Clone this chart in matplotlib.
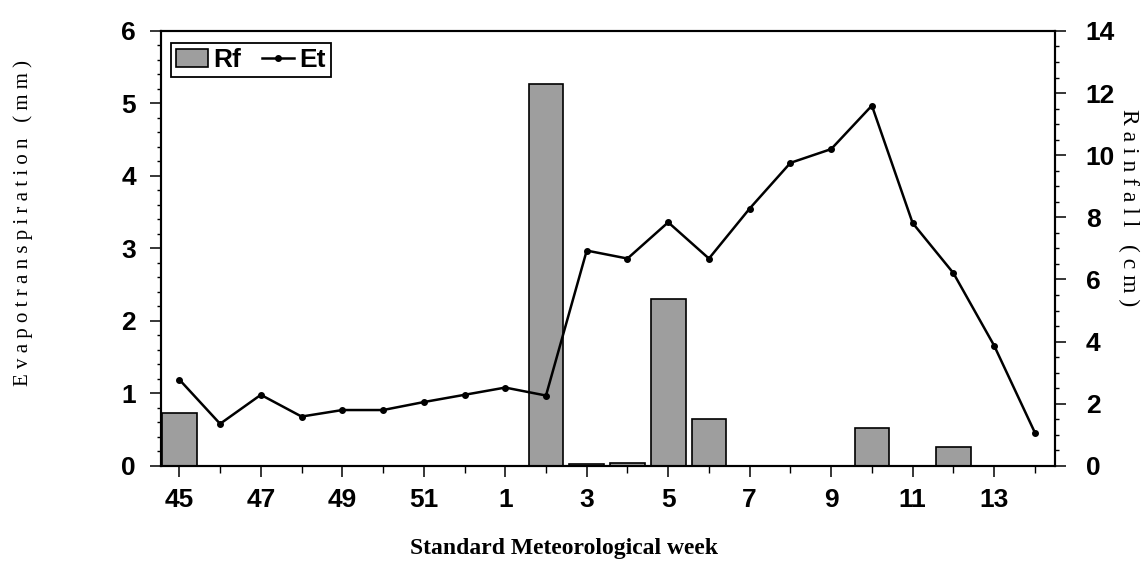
import numpy as np
import matplotlib
matplotlib.use('Agg')
import matplotlib.pyplot as plt
from matplotlib.ticker import MultipleLocator, FixedLocator

# standard meteorological weeks
weeks = [45, 46, 47, 48, 49, 50, 51, 52, 1, 2, 3, 4, 5, 6, 7, 8, 9, 10, 11, 12, 13, 14]

# evapotranspiration (mm), left axis
et = [1.19, 0.58, 0.98, 0.68, 0.77, 0.77, 0.88, 0.98, 1.08, 0.97, 2.97, 2.86,
      3.36, 2.86, 3.55, 4.18, 4.37, 4.97, 3.35, 2.66, 1.66, 0.46]

# rainfall (cm), right axis
rf = [1.7, 0, 0, 0, 0, 0, 0, 0, 0, 12.3, 0.07, 0.1,
      5.37, 1.5, 0, 0, 0, 1.22, 0, 0.6, 0, 0]

x = np.arange(len(weeks))

fig = plt.figure(figsize=(11.42, 5.73), dpi=100)
ax = fig.add_axes([0.141, 0.187, 0.783, 0.759])
ax2 = ax.twinx()

bars = ax2.bar(x, rf, width=0.85, color='#9e9e9e', edgecolor='black', linewidth=1.2, label='Rf')
line, = ax.plot(x, et, color='black', linewidth=1.8, marker='o', markersize=4, label='Et')

ax.set_zorder(ax2.get_zorder() + 1)
ax.patch.set_visible(False)

ax.set_xlim(-0.45, 21.5)
ax.set_ylim(0, 6)
ax2.set_ylim(0, 14)

ax.xaxis.set_major_locator(FixedLocator(x[::2]))
ax.xaxis.set_minor_locator(FixedLocator(x[1::2]))
ax.set_xticklabels([str(w) for w in weeks[::2]])

ax.yaxis.set_major_locator(MultipleLocator(1))
ax.yaxis.set_minor_locator(MultipleLocator(0.2))
ax2.yaxis.set_major_locator(MultipleLocator(2))
ax2.yaxis.set_minor_locator(MultipleLocator(0.5))

tick_font = dict(family='Liberation Sans', weight='bold', size=19)
for a in (ax, ax2):
    a.tick_params(which='major', length=8, width=1.1, direction='out')
    a.tick_params(which='minor', length=3, width=1.0, direction='out')
    for s in a.spines.values():
        s.set_linewidth(1.5)
        s.set_color('black')
ax.tick_params(axis='x', which='major', length=8, pad=8)
ax.tick_params(axis='x', which='minor', length=5)
ax.tick_params(axis='y', pad=10)
ax2.tick_params(axis='y', pad=14)
for lab in ax.get_xticklabels() + ax.get_yticklabels() + ax2.get_yticklabels():
    lab.set_fontproperties(tick_font)

# axis titles
fig.text(0.494, 0.042, 'Standard Meteorological week', family='Liberation Serif',
         weight='bold', size=17, ha='center', va='center')
fig.text(0.02, 0.61, 'E v a p o t r a n s p i r a t i o n   ( m m )', rotation=90,
         family='Liberation Serif', size=15, ha='center', va='center')
fig.text(0.988, 0.638, 'R a i n f a l l   ( c m )', rotation=-90,
         family='Liberation Serif', size=17, ha='center', va='center')

leg = ax.legend([bars, line], ['Rf', 'Et'], loc='upper left', ncol=2,
                bbox_to_anchor=(0.005, 0.985), fancybox=False, framealpha=1,
                edgecolor='black', handlelength=1.2, handletextpad=0.2,
                columnspacing=0.8, borderpad=0.2, borderaxespad=0.2,
                prop=dict(family='Liberation Sans', weight='bold', size=19))
leg.get_frame().set_linewidth(1.3)

fig.savefig('out.png', dpi=100)
